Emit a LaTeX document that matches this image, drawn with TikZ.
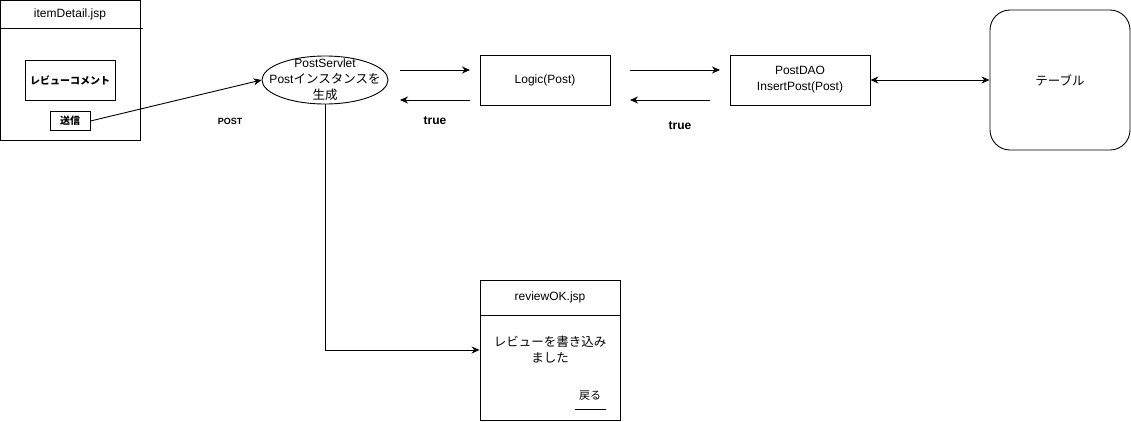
\documentclass[tikz,border=0pt]{standalone}
\usepackage{fontspec}
\setmainfont{Liberation Sans}
\newfontfamily\jp{Noto Sans CJK JP}
\newcommand\J[1]{{\jp\fontsize{12.5}{14}\selectfont #1}}
\newcommand\JB[1]{{\jp\bfseries\fontsize{10}{12}\selectfont #1}}
\usetikzlibrary{arrows.meta,shapes.geometric,calc}
\tikzset{
  box/.style={draw,line width=0.9pt,inner sep=0pt,align=center},
  lbl/.style={font=\fontsize{12}{16}\selectfont,align=center},
  conn/.style={line width=0.9pt,-{Stealth[length=8pt,width=7pt]}},
}
\begin{document}
\begin{tikzpicture}[x=1pt,y=-1pt]
\useasboundingbox (0,0) rectangle (1131,421);
% itemDetail.jsp
\node[box,minimum width=140pt,minimum height=140pt] (item) at (70,70) {};
\coordinate (ihl) at (0,28);
\coordinate (ihr) at (143,28);
\draw[line width=0.9pt] (ihl) -- (ihr);
\node[lbl] (itemt) at (70,14) {itemDetail.jsp};
\node[box,minimum width=90pt,minimum height=40pt] (comment) at (70,80) {\JB{レビューコメント}};
\node[box,minimum width=40pt,minimum height=19pt] (send) at (70,121) {\JB{送信}};
\node[font=\fontsize{9}{11}\selectfont\bfseries] (postl) at (230,121) {POST};
% servlet
\node[draw,ellipse,line width=0.9pt,minimum width=126pt,minimum height=48pt,inner sep=0pt] (serv) at (325,80) {};
\node[lbl,inner sep=0pt] (servt) at (325,80) {PostServlet\\Post\J{インスタンスを}\\\J{生成}};
\draw[conn] (send.east) -- (serv.west);
% logic
\node[box,minimum width=130pt,minimum height=50pt,lbl] (logic) at (545,80) {Logic(Post)};
\coordinate (a1s) at (400,70); \coordinate (a1e) at (470,70);
\coordinate (a2s) at (470,100); \coordinate (a2e) at (400,100);
\draw[conn] (a1s) -- (a1e);
\draw[conn] (a2s) -- (a2e);
\node[font=\fontsize{12}{14}\selectfont\bfseries] (true1) at (435,121) {true};
% DAO
\node[box,minimum width=140pt,minimum height=50pt,lbl] (dao) at (800,80) {PostDAO\\InsertPost(Post)};
\coordinate (b1s) at (630,70); \coordinate (b1e) at (720,70);
\coordinate (b2s) at (710,100); \coordinate (b2e) at (630,100);
\draw[conn] (b1s) -- (b1e);
\draw[conn] (b2s) -- (b2e);
\node[font=\fontsize{12}{14}\selectfont\bfseries] (true2) at (680,126) {true};
% table
\node[draw,rounded corners=20pt,line width=0.9pt,minimum width=140pt,minimum height=140pt] (table) at (1060,80) {\J{テーブル}};
\draw[line width=0.9pt,{Stealth[length=8pt,width=7pt]}-{Stealth[length=8pt,width=7pt]}] (dao.east) -- (table.west);
% reviewOK
\node[box,minimum width=140pt,minimum height=140pt] (ok) at (550,350) {};
\coordinate (ohl) at (480,315);
\coordinate (ohr) at (620,315);
\draw[line width=0.9pt] (ohl) -- (ohr);
\node[lbl] (okt) at (550,297) {reviewOK.jsp};
\node[lbl] (okmsg) at (550,350) {\J{レビューを書き込み}\\\J{ました}};
\node[inner sep=0pt] (back) at (590,396) {{\jp\fontsize{11}{13}\selectfont 戻る}};
\coordinate (ul) at (575,409); \coordinate (ur) at (606,409);
\draw[line width=0.9pt] (ul) -- (ur);
\draw[conn] (serv.south) |- (ok.west);
\end{tikzpicture}
\end{document}
